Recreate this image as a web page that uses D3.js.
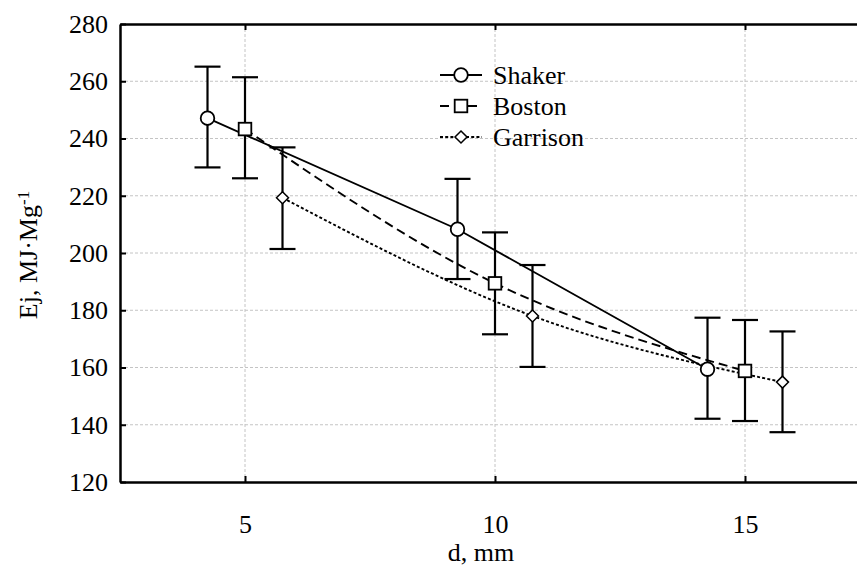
<!DOCTYPE html>
<html>
<head>
<meta charset="utf-8">
<script src="https://cdn.jsdelivr.net/npm/d3@7"></script>
<style>
  body { margin: 0; background: #fff; }
</style>
</head>
<body>
<div id="chart"></div>
<script>
// tick values
const xTicks = [5, 10, 15];
const yTicks = [120, 140, 160, 180, 200, 220, 240, 260, 280];

// x position (mm) of each group, shifted so the error bars do not overlap
const shakerD = [4.25, 9.25, 14.25];
const bostonD = [5, 10, 15];
const garrisonD = [5.75, 10.75, 15.75];

// means and error bar ends, MJ/Mg
const shakerMean = [247.1, 208.3, 159.4];
const shakerUpper = [265.1, 225.9, 177.4];
const shakerLower = [229.9, 190.9, 142.1];

const bostonMean = [243.3, 189.4, 158.8];
const bostonUpper = [261.4, 207.2, 176.6];
const bostonLower = [226.1, 171.6, 141.3];

const garrisonMean = [219.3, 178.0, 154.9];
const garrisonUpper = [236.9, 195.8, 172.6];
const garrisonLower = [201.4, 160.2, 137.4];

const seriesNames = ['Shaker', 'Boston', 'Garrison'];

const FONT = '"Liberation Serif", "Times New Roman", Times, serif';

const W = 857, H = 571;
const margin = {top: 24, right: 0, bottom: 89, left: 120};
const width = W - margin.left - margin.right,
      height = H - margin.top - margin.bottom;

const series = [
  {name: seriesNames[0], d: shakerD, mean: shakerMean, up: shakerUpper, lo: shakerLower,
   dash: null, marker: 'circle', curve: d3.curveLinear},
  {name: seriesNames[1], d: bostonD, mean: bostonMean, up: bostonUpper, lo: bostonLower,
   dash: '9,5', marker: 'square', curve: d3.curveMonotoneX},
  {name: seriesNames[2], d: garrisonD, mean: garrisonMean, up: garrisonUpper, lo: garrisonLower,
   dash: '3,2.2', marker: 'diamond', curve: d3.curveMonotoneX}
];

const svg = d3.select('#chart').append('svg')
  .attr('width', W).attr('height', H)
  .attr('font-family', FONT);
const g = svg.append('g')
  .attr('transform', 'translate(' + margin.left + ',' + margin.top + ')');

const x = d3.scaleLinear().domain([2.5, 2.5 + width / 50]).range([0, width]);
const y = d3.scaleLinear().domain([120, 280]).range([height, 0]);

// grid
g.append('g').selectAll('line').data(yTicks.slice(1, -1)).enter().append('line')
  .attr('x1', 0).attr('x2', width)
  .attr('y1', d => y(d)).attr('y2', d => y(d))
  .attr('stroke', '#c4c4c4').attr('stroke-width', 1).attr('stroke-dasharray', '3,2');
g.append('g').selectAll('line').data(xTicks).enter().append('line')
  .attr('x1', d => x(d)).attr('x2', d => x(d))
  .attr('y1', 0).attr('y2', height)
  .attr('stroke', '#c4c4c4').attr('stroke-width', 1).attr('stroke-dasharray', '3,2');

// axes (ticks point inward)
const yAxis = g.append('g')
  .call(d3.axisLeft(y).tickValues(yTicks).tickSizeInner(-6).tickSizeOuter(0).tickPadding(12));
const xAxis = g.append('g').attr('transform', 'translate(0,' + height + ')')
  .call(d3.axisBottom(x).tickValues(xTicks).tickSizeInner(-6).tickSizeOuter(0).tickPadding(33));
const topAxis = g.append('g')
  .call(d3.axisTop(x).tickValues(xTicks).tickSizeInner(-6).tickSizeOuter(0).tickFormat(''));

[yAxis, xAxis, topAxis].forEach(a => {
  a.attr('font-family', FONT).attr('font-size', 26);
  a.select('.domain').attr('stroke', '#000').attr('stroke-width', 2.5);
  a.selectAll('.tick line').attr('stroke', '#000').attr('stroke-width', 2);
  a.selectAll('.tick text').attr('fill', '#000');
});

// lines
series.forEach(s => {
  const pts = s.d.map((d, i) => [d, s.mean[i]]);
  g.append('path')
    .datum(pts)
    .attr('fill', 'none')
    .attr('stroke', '#000')
    .attr('stroke-width', 1.9)
    .attr('stroke-dasharray', s.dash)
    .attr('d', d3.line().x(p => x(p[0])).y(p => y(p[1])).curve(s.curve));
});

// error bars
series.forEach(s => {
  const eb = g.append('g').attr('stroke', '#000').attr('stroke-width', 2.2);
  s.d.forEach((d, i) => {
    eb.append('line').attr('x1', x(d)).attr('x2', x(d)).attr('y1', y(s.up[i])).attr('y2', y(s.lo[i]));
    eb.append('line').attr('x1', x(d) - 13).attr('x2', x(d) + 13).attr('y1', y(s.up[i])).attr('y2', y(s.up[i]));
    eb.append('line').attr('x1', x(d) - 13).attr('x2', x(d) + 13).attr('y1', y(s.lo[i])).attr('y2', y(s.lo[i]));
  });
});

function drawMarker(sel, type, cx, cy) {
  if (type === 'circle') {
    sel.append('circle').attr('cx', cx).attr('cy', cy).attr('r', 6.8)
      .attr('fill', '#fff').attr('stroke', '#000').attr('stroke-width', 1.8);
  } else if (type === 'square') {
    sel.append('rect').attr('x', cx - 6.3).attr('y', cy - 6.3).attr('width', 12.6).attr('height', 12.6)
      .attr('fill', '#fff').attr('stroke', '#000').attr('stroke-width', 1.8);
  } else {
    const r = 6;
    sel.append('path')
      .attr('d', `M${cx},${cy - r}L${cx + r},${cy}L${cx},${cy + r}L${cx - r},${cy}Z`)
      .attr('fill', '#fff').attr('stroke', '#000').attr('stroke-width', 1.5);
  }
}

// markers
series.forEach(s => {
  const mg = g.append('g');
  s.d.forEach((d, i) => drawMarker(mg, s.marker, x(d), y(s.mean[i])));
});

// legend
const legend = svg.append('g');
series.forEach((s, i) => {
  const cy = 75 + i * 31;
  legend.append('line')
    .attr('x1', 440).attr('x2', 482).attr('y1', cy).attr('y2', cy)
    .attr('stroke', '#000').attr('stroke-width', 1.8)
    .attr('stroke-dasharray', s.dash);
  drawMarker(legend, s.marker, 461, cy);
  legend.append('text')
    .attr('x', 493).attr('y', cy + 8.5)
    .attr('font-family', FONT)
    .attr('font-size', 26)
    .text(s.name);
});

// axis titles
svg.append('text')
  .attr('x', 481).attr('y', 561)
  .attr('text-anchor', 'middle')
  .attr('font-family', FONT)
  .attr('font-size', 26)
  .text('d, mm');

const yt = svg.append('text')
  .attr('transform', 'translate(37,255) rotate(-90)')
  .attr('text-anchor', 'middle')
  .attr('font-family', FONT)
  .attr('font-size', 26);
yt.append('tspan').text('Ej, MJ\u00B7Mg');
yt.append('tspan').attr('dy', '-0.45em').attr('font-size', 17).text('-1');
</script>
</body>
</html>
